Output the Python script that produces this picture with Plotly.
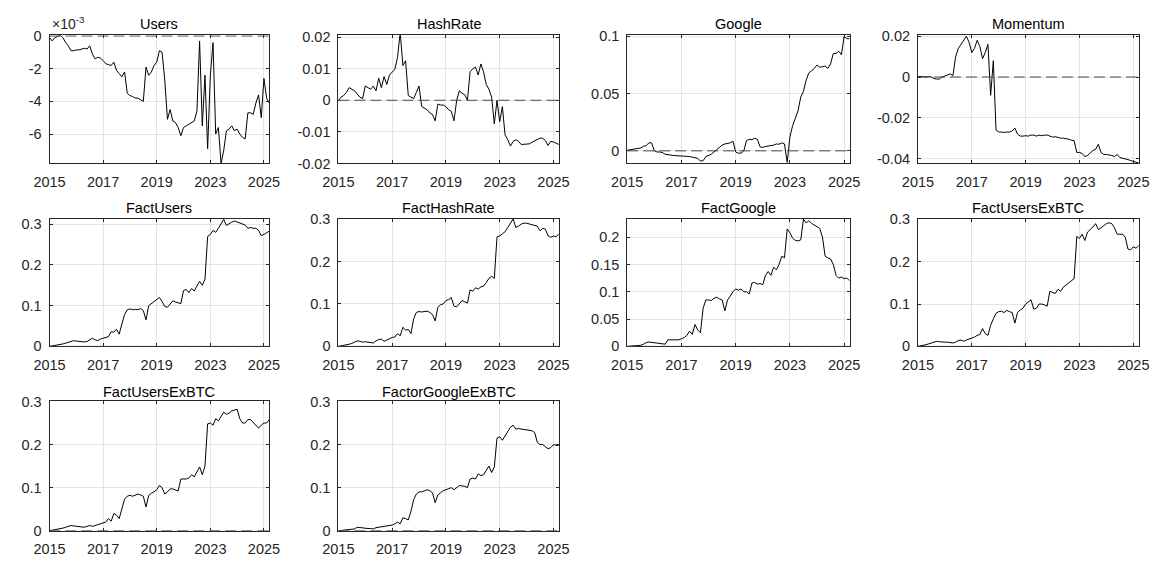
import plotly.graph_objects as go
from plotly.subplots import make_subplots

# Sample index along the time axis (83 observations)
period = list(range(83))
tick_pos = [0, 20, 40, 60, 80]
tick_years = ["2015", "2017", "2019", "2023", "2025"]

# Users factor, in units of 1e-3
users_e3 = [
    -0.1, -0.3, -0.1, 0.0, 0.05, -0.1, -0.4, -0.6, -0.9, -0.9,
    -0.85, -0.85, -0.8, -0.75, -0.8, -0.6, -1.1, -1.4, -1.3, -1.35,
    -1.5, -1.7, -1.75, -1.8, -1.6, -2.1, -2.3, -2.5, -2.2, -3.5,
    -3.65, -3.7, -3.8, -3.8, -3.9, -4.0, -1.9, -2.4, -2.2, -1.8,
    -1.6, -0.9, -1.0, -2.7, -5.1, -4.5, -5.2, -5.3, -5.6, -6.1,
    -5.6, -5.5, -5.4, -5.3, -5.2, -4.6, -0.3, -5.5, -2.4, -6.9,
    -2.4, -0.4, -6.0, -5.6, -7.8, -7.0, -5.8, -5.7, -5.5, -5.8,
    -5.7, -6.0, -6.2, -6.3, -4.7, -4.7, -4.8, -4.1, -3.6, -5.0,
    -2.6, -3.8, -4.1,
]

hashrate = [
    0.0, 0.001, 0.0015, 0.0025, 0.004, 0.0035, 0.003, 0.002, 0.001, 0.0005,
    0.0045, 0.004, 0.0035, 0.0045, 0.003, 0.007, 0.004, 0.0075, 0.005, 0.008,
    0.009, 0.0098, 0.0135, 0.0215, 0.011, 0.0125, 0.0015, 0.001, 0.0005, 0.0025,
    0.0045, -0.002, -0.0025, -0.003, -0.004, -0.0045, -0.0065, -0.0012, -0.0015, -0.0015,
    -0.002, -0.003, -0.0035, -0.0065, 0.0, 0.003, 0.0022, 0.0018, 0.0, 0.009,
    0.01, 0.0105, 0.008, 0.0115, 0.009, 0.005, 0.0035, 0.001, -0.0075, 0.0,
    -0.0068, -0.002, -0.011, -0.0125, -0.0145, -0.013, -0.0125, -0.013, -0.014, -0.014,
    -0.014, -0.0138, -0.0133, -0.0128, -0.0125, -0.012, -0.012, -0.0128, -0.0143, -0.013,
    -0.0132, -0.0135, -0.014,
]

google = [
    0.0005, 0.001, 0.0015, 0.002, 0.002, 0.0025, 0.004, 0.0045, 0.007, 0.007,
    0.0, -0.001, -0.001, -0.0015, -0.003, -0.0035, -0.004, -0.004, -0.0042, -0.0045,
    -0.0042, -0.0045, -0.0048, -0.005, -0.0055, -0.006, -0.0065, -0.009, -0.0085, -0.005,
    -0.004, -0.003, -0.001, 0.001, 0.003, 0.005, 0.006, 0.0065, 0.007, 0.0085,
    -0.001, -0.002, -0.002, 0.0, 0.009, 0.01, 0.0098, 0.011, 0.01, 0.0035,
    0.003, 0.0038, 0.004, 0.0045, 0.005, 0.006, 0.0058, 0.007, 0.006, -0.01,
    0.012, 0.022, 0.029, 0.035, 0.047, 0.052, 0.062, 0.068, 0.07, 0.072,
    0.075, 0.073, 0.0735, 0.074, 0.072, 0.076, 0.085, 0.085, 0.087, 0.084,
    0.1, 0.098, 0.098,
]

momentum = [
    0.0002, 0.0003, 0.0002, 0.0, 0.0002, 0.0, -0.0008, -0.001, -0.001, 0.0,
    0.0005, 0.001, 0.0015, 0.0007, 0.01, 0.014, 0.016, 0.018, 0.02, 0.017,
    0.012, 0.014, 0.018, 0.015, 0.009, 0.012, 0.016, -0.009, 0.008, -0.026,
    -0.027, -0.027, -0.0272, -0.027, -0.027, -0.0265, -0.025, -0.028, -0.029, -0.029,
    -0.0288, -0.029, -0.0285, -0.0285, -0.029, -0.0285, -0.0288, -0.0285, -0.0285, -0.029,
    -0.0295, -0.0293, -0.0298, -0.03, -0.03, -0.0302, -0.0305, -0.031, -0.0312, -0.037,
    -0.037, -0.0375, -0.039, -0.0385, -0.037, -0.036, -0.0355, -0.033, -0.037, -0.038,
    -0.038, -0.0382, -0.0385, -0.039, -0.038, -0.0395, -0.0398, -0.04, -0.0405, -0.041,
    -0.0415, -0.042, -0.0422,
]

fact_users = [
    0.0, 0.001, 0.002, 0.004, 0.005, 0.006, 0.008, 0.01, 0.013, 0.014,
    0.013, 0.012, 0.011, 0.011, 0.012, 0.015, 0.02, 0.016, 0.014, 0.018,
    0.02, 0.022, 0.024, 0.036, 0.035, 0.042, 0.03, 0.055, 0.078, 0.09,
    0.092, 0.09, 0.091, 0.09, 0.093, 0.088, 0.065, 0.1, 0.105, 0.108,
    0.113, 0.12, 0.11, 0.098, 0.096, 0.105, 0.112, 0.109, 0.106, 0.105,
    0.137, 0.14, 0.132, 0.142, 0.136, 0.148, 0.16, 0.15, 0.165, 0.27,
    0.275, 0.285, 0.28, 0.29, 0.3, 0.312, 0.297, 0.302, 0.305, 0.308,
    0.305, 0.302, 0.3, 0.298, 0.29, 0.292, 0.29, 0.29, 0.285, 0.272,
    0.275, 0.278, 0.283,
]

fact_hashrate = [
    0.0, 0.001, 0.002, 0.004, 0.005, 0.007, 0.01, 0.013, 0.012, 0.01,
    0.011, 0.01, 0.009, 0.008, 0.013, 0.016, 0.017, 0.012, 0.015, 0.019,
    0.021, 0.022, 0.03, 0.025, 0.045, 0.038, 0.04, 0.03, 0.065, 0.08,
    0.082, 0.081, 0.082, 0.083, 0.08, 0.075, 0.06, 0.092, 0.098, 0.1,
    0.108, 0.11, 0.115, 0.095, 0.093, 0.102, 0.108, 0.105, 0.102, 0.133,
    0.13, 0.138, 0.135, 0.14, 0.142, 0.15, 0.16, 0.165, 0.16, 0.258,
    0.26, 0.265, 0.27, 0.28, 0.29, 0.3, 0.28, 0.283, 0.288, 0.29,
    0.29, 0.288, 0.287, 0.285, 0.283, 0.272, 0.278, 0.276, 0.26, 0.257,
    0.26, 0.258, 0.265,
]

fact_google = [
    0.0, 0.0005, 0.001, 0.0015, 0.002, 0.002, 0.004, 0.007, 0.008, 0.0075,
    0.007, 0.0065, 0.006, 0.0055, 0.004, 0.012, 0.012, 0.011, 0.011, 0.012,
    0.014, 0.016, 0.02, 0.028, 0.022, 0.04, 0.03, 0.025, 0.07, 0.085,
    0.085, 0.084, 0.088, 0.09, 0.087, 0.085, 0.065, 0.085, 0.092, 0.1,
    0.105, 0.103, 0.105, 0.1, 0.1, 0.096, 0.116, 0.117, 0.114, 0.115,
    0.113, 0.13, 0.137, 0.13, 0.145, 0.14, 0.15, 0.165, 0.162, 0.215,
    0.208, 0.198, 0.194, 0.193, 0.195, 0.233, 0.226, 0.23, 0.225, 0.222,
    0.22, 0.216, 0.2, 0.165, 0.162, 0.16, 0.15, 0.13, 0.125, 0.127,
    0.124, 0.125, 0.12,
]

fact_users_exbtc = [
    0.0, 0.001, 0.002, 0.004, 0.006, 0.008, 0.01, 0.012, 0.011, 0.01,
    0.01, 0.01, 0.009, 0.008, 0.01, 0.014, 0.015, 0.012, 0.015, 0.017,
    0.02, 0.022, 0.026, 0.028, 0.042, 0.03, 0.026, 0.05, 0.065, 0.078,
    0.082, 0.083, 0.08, 0.085, 0.082, 0.08, 0.055, 0.08, 0.086, 0.09,
    0.1, 0.106, 0.11, 0.088, 0.09, 0.1, 0.1, 0.098, 0.095, 0.13,
    0.128, 0.125, 0.135, 0.13, 0.14, 0.145, 0.15, 0.155, 0.16, 0.26,
    0.255, 0.265, 0.25, 0.27, 0.275, 0.282, 0.29, 0.276, 0.28, 0.285,
    0.29, 0.292, 0.29, 0.28, 0.265, 0.265, 0.265, 0.258, 0.23, 0.228,
    0.235, 0.232, 0.238,
]

fact_users_exbtc_b = [
    0.0, 0.001, 0.002, 0.003, 0.005, 0.006, 0.008, 0.01, 0.012, 0.011,
    0.01, 0.009, 0.009, 0.008, 0.01, 0.012, 0.01, 0.012, 0.014, 0.016,
    0.018, 0.02, 0.028, 0.022, 0.04, 0.036, 0.028, 0.052, 0.073, 0.08,
    0.082, 0.08, 0.083, 0.085, 0.083, 0.08, 0.055, 0.082, 0.087, 0.09,
    0.095, 0.105, 0.1, 0.085, 0.09, 0.097, 0.097, 0.095, 0.092, 0.12,
    0.12, 0.12, 0.122, 0.13, 0.125, 0.138, 0.148, 0.13, 0.15, 0.248,
    0.25, 0.245, 0.26, 0.255, 0.265, 0.275, 0.27, 0.273, 0.278, 0.28,
    0.282, 0.26, 0.25, 0.25, 0.258, 0.258, 0.252, 0.245, 0.238, 0.245,
    0.25, 0.25, 0.258,
]

factor_google_exbtc = [
    0.0, 0.0005, 0.001, 0.001, 0.0015, 0.002, 0.004, 0.008, 0.007, 0.006,
    0.005, 0.005, 0.005, 0.004, 0.007, 0.008, 0.008, 0.009, 0.01, 0.012,
    0.013, 0.016, 0.02, 0.016, 0.03, 0.028, 0.025, 0.045, 0.072, 0.085,
    0.09, 0.09, 0.093, 0.095, 0.093, 0.088, 0.065, 0.083, 0.088, 0.093,
    0.095, 0.098, 0.1, 0.095, 0.1, 0.105, 0.104, 0.103, 0.1, 0.12,
    0.122, 0.12, 0.132, 0.128, 0.13, 0.14, 0.15, 0.135, 0.148, 0.215,
    0.218, 0.21, 0.22, 0.23, 0.24, 0.245, 0.236, 0.237, 0.236, 0.235,
    0.235, 0.233, 0.232, 0.228, 0.205, 0.2, 0.2, 0.195, 0.19, 0.193,
    0.2, 0.198, 0.198,
]

# Y tick values / labels for each panel
users_ticks = [-6, -4, -2, 0]
users_labels = ["-6", "-4", "-2", "0"]
hash_ticks = [-0.02, -0.01, 0, 0.01, 0.02]
hash_labels = ["-0.02", "-0.01", "0", "0.01", "0.02"]
google_ticks = [0, 0.05, 0.1]
google_labels = ["0", "0.05", "0.1"]
mom_ticks = [-0.04, -0.02, 0, 0.02]
mom_labels = ["-0.04", "-0.02", "0", "0.02"]
fact_ticks = [0, 0.1, 0.2, 0.3]
fact_labels = ["0", "0.1", "0.2", "0.3"]
fgoogle_ticks = [0, 0.05, 0.1, 0.15, 0.2]
fgoogle_labels = ["0", "0.05", "0.1", "0.15", "0.2"]

panels = [
    ("Users", users_e3, [-7.8, 0.05], users_ticks, users_labels, 1, 1),
    ("HashRate", hashrate, [-0.02, 0.0206], hash_ticks, hash_labels, 1, 2),
    ("Google", google, [-0.011, 0.101], google_ticks, google_labels, 1, 3),
    ("Momentum", momentum, [-0.0424, 0.0205], mom_ticks, mom_labels, 1, 4),
    ("FactUsers", fact_users, [0, 0.314], fact_ticks, fact_labels, 2, 1),
    ("FactHashRate", fact_hashrate, [0, 0.301], fact_ticks, fact_labels, 2, 2),
    ("FactGoogle", fact_google, [0, 0.234], fgoogle_ticks, fgoogle_labels, 2, 3),
    ("FactUsersExBTC", fact_users_exbtc, [0, 0.302], fact_ticks, fact_labels, 2, 4),
    ("FactUsersExBTC", fact_users_exbtc_b, [0, 0.3], fact_ticks, fact_labels, 3, 1),
    ("FactorGoogleExBTC", factor_google_exbtc, [0, 0.3], fact_ticks, fact_labels, 3, 2),
]

W, H = 1167, 562
col_px = [(34.3, 259.3), (330.0, 555.7), (625.7, 853.3), (923.3, 1149.3)]
row_px = [(28.0, 160.0), (216.7, 348.3), (405.0, 538.0)]
title_px = [16.0, 205.5, 395.0]

FONT = "Liberation Sans, Arial, Helvetica, sans-serif"
INK = "#262626"

fig = make_subplots(
    rows=3, cols=4,
    specs=[[{}, {}, {}, {}], [{}, {}, {}, {}], [{}, {}, None, None]],
)

for title, vals, yr, tv, tt, r, c in panels:
    x0, x1 = col_px[c - 1]
    y0, y1 = row_px[r - 1]
    fig.add_trace(
        go.Scatter(x=period, y=vals, mode="lines",
                   line=dict(color="black", width=1), showlegend=False,
                   hoverinfo="skip"),
        row=r, col=c,
    )
    fig.add_hline(y=0, line=dict(color="#4a4a4a", width=1, dash="11px,5px"),
                  row=r, col=c)
    fig.update_xaxes(
        domain=[x0 / W, x1 / W], range=[0, 82],
        tickvals=tick_pos, ticktext=tick_years, ticklabelstandoff=5,
        row=r, col=c,
    )
    fig.update_yaxes(
        domain=[1 - y1 / H, 1 - y0 / H], range=yr,
        tickvals=tv, ticktext=tt, ticklabelstandoff=4,
        row=r, col=c,
    )
    fig.add_annotation(
        text=title, xref="paper", yref="paper",
        x=(x0 + x1) / 2 / W, y=1 - title_px[r - 1] / H,
        xanchor="center", yanchor="middle", showarrow=False,
        font=dict(family=FONT, size=14.5, color="black"),
    )

# Exponent marker for the Users panel
fig.add_annotation(
    text="\u00d710<sup>-3</sup>", xref="paper", yref="paper",
    x=col_px[0][0] / W, y=1 - 27.0 / H,
    xanchor="left", yanchor="bottom", showarrow=False,
    font=dict(family=FONT, size=14, color=INK),
)

axis_style = dict(
    showline=True, linecolor=INK, linewidth=1, mirror="ticks",
    ticks="inside", ticklen=3, tickcolor=INK, tickwidth=1,
    showgrid=True, gridcolor="#e4e4e4", gridwidth=1,
    zeroline=False, fixedrange=True,
    tickfont=dict(family=FONT, size=14.5, color=INK),
)
fig.update_xaxes(**axis_style)
fig.update_yaxes(**axis_style)

fig.update_layout(
    width=W, height=H,
    margin=dict(l=0, r=0, t=0, b=0),
    paper_bgcolor="white", plot_bgcolor="white",
    font=dict(family=FONT, color=INK),
    showlegend=False,
)

fig.write_html("out.html")
